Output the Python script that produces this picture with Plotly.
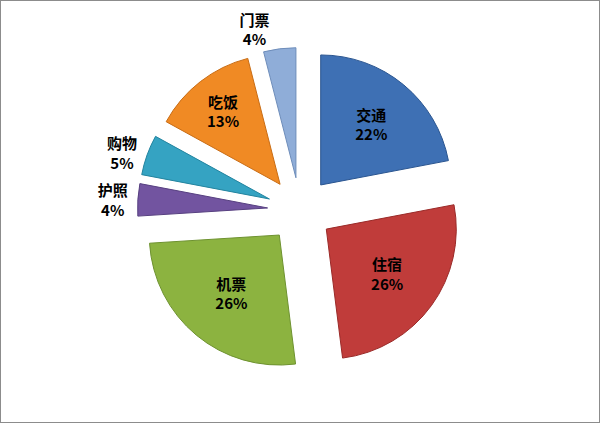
import plotly.graph_objects as go

labels = ["交通", "住宿", "机票", "护照", "购物", "吃饭", "门票"]
values = [22, 26, 26, 4, 5, 13, 4]
colors = ["#3E70B4", "#C03C3A", "#8CB340", "#7254A0", "#35A3C2", "#F08A24", "#8FADD8"]
edge_colors = ["#2A5590", "#9A2A28", "#6E9230", "#574080", "#23849F", "#C86C14", "#6E8DBA"]
text_pos = ["inside", "inside", "inside", "outside", "outside", "inside", "outside"]
pulls = [0.25] * len(values)

W, H = 600, 423
cx, cy, R = 300, 210, 130  # pie centre and radius in pixels
ext = R * (1 + max(pulls))

fig = go.Figure(
    go.Pie(
        labels=labels,
        values=values,
        sort=False,
        direction="clockwise",
        rotation=0,
        pull=pulls,
        automargin=False,
        marker=dict(colors=colors, line=dict(color=edge_colors, width=1)),
        textposition=text_pos,
        texttemplate="<b>%{label}</b><br><b>%{percent:.0%}</b>",
        insidetextorientation="horizontal",
        textfont=dict(family="Noto Sans CJK SC", size=15, color="#000000"),
        showlegend=False,
        hoverinfo="label+percent",
        domain=dict(x=[(cx - ext) / W, (cx + ext) / W],
                    y=[(H - cy - ext) / H, (H - cy + ext) / H]),
    )
)

fig.update_layout(
    width=W,
    height=H,
    margin=dict(l=0, r=0, t=0, b=0, autoexpand=False),
    paper_bgcolor="#FFFFFF",
    plot_bgcolor="#FFFFFF",
    font=dict(family="Noto Sans CJK SC"),
    uniformtext=dict(minsize=14, mode="show"),
    shapes=[
        dict(type="rect", xref="paper", yref="paper", x0=0, y0=0, x1=1, y1=1,
             line=dict(color="#8C8C8C", width=2), fillcolor="rgba(0,0,0,0)", layer="above")
    ],
)

fig.write_html("out.html", config={"displayModeBar": False},
               post_script="document.body.style.margin='0';")
